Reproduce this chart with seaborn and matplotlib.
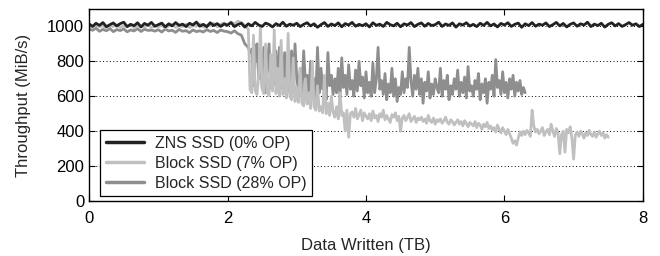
import numpy as np
import pandas as pd
import seaborn as sns
import matplotlib
matplotlib.use("Agg")
import matplotlib.pyplot as plt

# steady phase sampled every 0.05 TB, GC phase (from 2.3 TB) every 0.025 TB
flat_step = 0.05
gc_start = 2.3
gc_step = 0.025

zns = [
    1014, 1000, 1018, 1006, 1022, 998, 1010, 1020, 1002, 1016, 1024, 999, 1012, 1004, 1021, 997, 1017, 1007, 1023, 1001,
    1010, 1019, 997, 1015, 1003, 1022, 1006, 1013, 999, 1018, 1008, 1025, 1001, 1012, 998, 1021, 1005, 1016, 1000, 1014,
    1007, 1022, 999, 1011, 1018, 996, 1015, 1003, 1023, 1008, 1000, 1019, 1011, 997, 1016, 1005, 1024, 1001, 1013, 1007,
    1018, 999, 1012, 1021, 1003, 1015, 995, 1010, 1022, 1000, 1014, 1005, 1020, 998, 1016, 1008, 1023, 1001, 1012, 1004,
    1015, 997, 1021, 1006, 1013, 1000, 1023, 1010, 1003, 1018, 998, 1015, 1008, 1022, 999, 1012, 1020, 1001, 1017, 1005,
    1010, 1024, 1000, 1014, 1006, 1020, 996, 1015, 1008, 1021, 1002, 1012, 999, 1018, 1006, 1023, 1003, 1014, 997, 1017,
    1008, 1021, 1000, 1012, 1019, 995, 1015, 1005, 1022, 1001, 1013, 1007, 1020, 999, 1010, 1023, 1003, 1017, 997, 1012,
    1020, 1001, 1015, 1008, 1024, 999, 1013, 1005, 1018, 996, 1012, 1021, 1003, 1016, 1000, 1010, 1022, 1007, 1015, 999,
    1012,
]

block_7_flat = [
    1002, 995, 1008, 998, 1004, 990, 1006, 999, 1010, 994, 1003, 997, 1012, 992, 1005, 1000, 996, 1009, 993, 1004,
    998, 1007, 991, 1002, 1011, 995, 1004, 999, 1013, 993, 1006, 1001, 1015, 996, 1008, 1003, 1018, 998, 1012, 1020,
    1010, 1025, 1015, 1030, 1022, 1005,
]
block_7_gc = [
    985, 640, 620, 950, 630, 610, 720, 1000, 640, 615,
    900, 625, 605, 840, 630, 980, 615, 760, 600, 920,
    610, 700, 590, 960, 600, 580, 820, 570, 650, 565,
    760, 560, 545, 700, 555, 620, 530, 800, 540, 520,
    660, 515, 540, 505, 720, 500, 560, 490, 600, 510,
    480, 540, 470, 620, 490, 505, 400, 520, 365, 500,
    510, 480, 530, 470, 495, 520, 460, 505, 485, 470,
    500, 460, 515, 475, 490, 455, 500, 480, 520, 465,
    490, 470, 450, 495, 480, 505, 460, 485, 400, 475,
    490, 460, 480, 500, 455, 470, 485, 450, 475, 465,
    480, 455, 470, 445, 490, 460, 450, 475, 440, 465,
    455, 470, 445, 460, 480, 450, 440, 465, 455, 435,
    450, 465, 440, 455, 430, 460, 445, 425, 450, 440,
    430, 455, 420, 445, 435, 410, 440, 425, 450, 415,
    430, 405, 420, 395, 435, 410, 390, 420, 400, 380,
    410, 385, 360, 330, 345, 320, 360, 395, 375, 400,
    380, 405, 390, 370, 520, 430, 395, 410, 385, 400,
    420, 375, 395, 410, 380, 440, 400, 370, 415, 390,
    270, 380, 400, 280, 410, 390, 425, 360, 240, 380,
    395, 370, 400, 385, 360, 390, 375, 405, 380, 370,
    395, 365, 385, 400, 375, 390, 360, 380, 365,
]

block_28_flat = [
    985, 978, 990, 972, 983, 975, 988, 970, 982, 976, 986, 969, 980, 974, 987, 971, 984, 977, 979, 973,
    981, 968, 985, 974, 978, 966, 983, 972, 976, 964, 980, 970, 975, 968, 982, 971, 977, 965, 979, 973,
    970, 962, 975, 958, 950, 900,
]
block_28_gc = [
    880, 850, 870, 660, 840, 900, 700, 860, 650, 880,
    620, 760, 900, 650, 820, 670, 860, 640, 880, 700,
    640, 850, 680, 780, 620, 860, 650, 900, 700, 640,
    760, 620, 860, 680, 720, 600, 800, 650, 700, 590,
    880, 620, 760, 640, 700, 580, 850, 660, 720, 610,
    700, 620, 760, 590, 820, 650, 720, 610, 780, 640,
    690, 600, 750, 630, 800, 660, 710, 590, 740, 620,
    680, 600, 790, 620, 700, 880, 640, 690, 610, 730,
    580, 670, 620, 760, 600, 700, 570, 650, 610, 740,
    620, 700, 650, 880, 690, 600, 720, 640, 760, 610,
    700, 560, 680, 630, 740, 590, 670, 610, 700, 650,
    620, 760, 600, 690, 640, 720, 580, 660, 610, 700,
    640, 750, 600, 680, 620, 710, 590, 770, 630, 660,
    600, 690, 640, 730, 580, 670, 620, 700, 560, 680,
    640, 720, 600, 810, 650, 690, 610, 740, 620, 680,
    590, 700, 640, 720, 600, 680, 630, 690, 610, 650,
    620,
]

labels = ["ZNS SSD (0% OP)", "Block SSD (7% OP)", "Block SSD (28% OP)"]
colors = ["#222222", "#c0c0c0", "#8e8e8e"]


def to_df(flat, gc=()):
    tb = list(np.arange(len(flat)) * flat_step) + list(gc_start + np.arange(len(gc)) * gc_step)
    return pd.DataFrame({"tb": tb, "mibs": list(flat) + list(gc)})


sns.set_style("ticks")
plt.rcParams["font.family"] = ["Liberation Sans", "DejaVu Sans"]
plt.rcParams["font.size"] = 12

fig = plt.figure(figsize=(6.6, 2.56), dpi=100)
ax = fig.add_axes([0.135, 0.215, 0.839, 0.75])

# draw order: mid, light, dark on top
sns.lineplot(data=to_df(block_28_flat, block_28_gc), x="tb", y="mibs", ax=ax, color=colors[2],
             lw=2.0, estimator=None, sort=False, label=labels[2])
sns.lineplot(data=to_df(block_7_flat, block_7_gc), x="tb", y="mibs", ax=ax, color=colors[1],
             lw=2.0, estimator=None, sort=False, label=labels[1])
sns.lineplot(data=to_df(zns), x="tb", y="mibs", ax=ax, color=colors[0],
             lw=2.0, estimator=None, sort=False, label=labels[0])

ax.set_xlim(0, 8)
ax.set_ylim(0, 1100)
ax.set_xticks([0, 2, 4, 6, 8])
ax.set_yticks([0, 200, 400, 600, 800, 1000])
ax.set_xlabel("Data Written (TB)", fontsize=12, labelpad=9)
ax.set_ylabel("Throughput (MiB/s)", fontsize=12, labelpad=12)
ax.tick_params(direction="in", top=True, right=True, length=4, width=0.8,
               labelsize=12, colors="black")
ax.tick_params(axis="x", pad=7)
for s in ax.spines.values():
    s.set_visible(True)
    s.set_linewidth(1.0)
    s.set_color("black")
for yv in [200, 400, 600, 800, 1000]:
    ax.axhline(yv, color="black", lw=0.7, ls=(0, (1, 2.5)), zorder=0)

h, l = ax.get_legend_handles_labels()
order = [l.index(lab) for lab in labels]
leg = ax.legend([h[i] for i in order], [l[i] for i in order], loc="lower left",
                bbox_to_anchor=(0.02, 0.025), borderaxespad=0, fancybox=False,
                edgecolor="black", framealpha=1, fontsize=11.5, handlelength=2.4,
                labelspacing=0.3, borderpad=0.35, handletextpad=0.7)
leg.get_frame().set_linewidth(0.9)
for line in leg.get_lines():
    line.set_linewidth(2.5)

fig.savefig("out.png", dpi=100)
